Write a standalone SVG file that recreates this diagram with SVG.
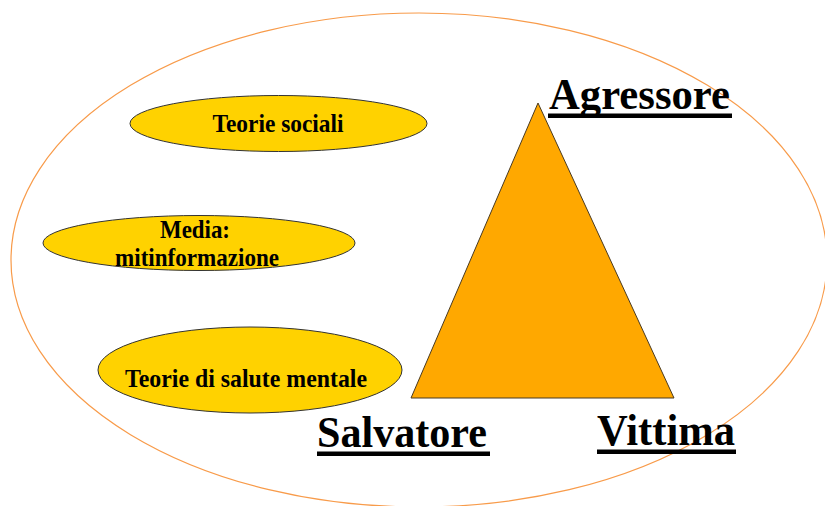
<svg xmlns="http://www.w3.org/2000/svg" width="825" height="506" viewBox="0 0 825 506">
  <style>
    .oval { fill: #FFD200; stroke: #333333; stroke-width: 1; }
    .small { font-family: "Liberation Serif", "Times New Roman", serif; font-weight: bold; font-size: 25px; fill: #000; text-anchor: middle; }
    .big { font-family: "Liberation Serif", "Times New Roman", serif; font-weight: bold; font-size: 44px; fill: #000; }
    .ul { fill: #000; }
  </style>
  <rect x="0" y="0" width="825" height="506" fill="#FFFFFF"/>
  <g id="frame">
    <ellipse cx="419" cy="260" rx="408" ry="247" fill="none" stroke="#F89B4A" stroke-width="1.2"/>
  </g>
  <g id="teorie-sociali">
    <ellipse class="oval" cx="278.5" cy="123.5" rx="148.5" ry="28"/>
    <text class="small" x="278" y="132" textLength="131" lengthAdjust="spacingAndGlyphs">Teorie sociali</text>
  </g>
  <g id="media">
    <ellipse class="oval" cx="199" cy="243" rx="156" ry="27.5"/>
    <text class="small" x="195" y="238" textLength="70" lengthAdjust="spacingAndGlyphs">Media:</text>
    <text class="small" x="197" y="266" textLength="164" lengthAdjust="spacingAndGlyphs">mitinformazione</text>
  </g>
  <g id="teorie-salute">
    <ellipse class="oval" cx="250" cy="370" rx="152" ry="43"/>
    <text class="small" x="246" y="387" textLength="242" lengthAdjust="spacingAndGlyphs">Teorie di salute mentale</text>
  </g>
  <g id="triangolo">
    <polygon points="538,103 411,398 674,398" fill="#FFA800" stroke="#4A3A20" stroke-width="1"/>
  </g>
  <g id="agressore">
    <text class="big" x="549" y="109" textLength="181" lengthAdjust="spacingAndGlyphs">Agressore</text>
    <rect class="ul" x="548" y="113.5" width="184" height="4.5"/>
  </g>
  <g id="salvatore">
    <text class="big" x="317" y="447" textLength="170" lengthAdjust="spacingAndGlyphs">Salvatore</text>
    <rect class="ul" x="317" y="451.5" width="173" height="4.5"/>
  </g>
  <g id="vittima">
    <text class="big" x="597" y="445" textLength="138" lengthAdjust="spacingAndGlyphs">Vittima</text>
    <rect class="ul" x="597" y="449.5" width="139" height="4.5"/>
  </g>
  <g id="connectors"></g>
</svg>
